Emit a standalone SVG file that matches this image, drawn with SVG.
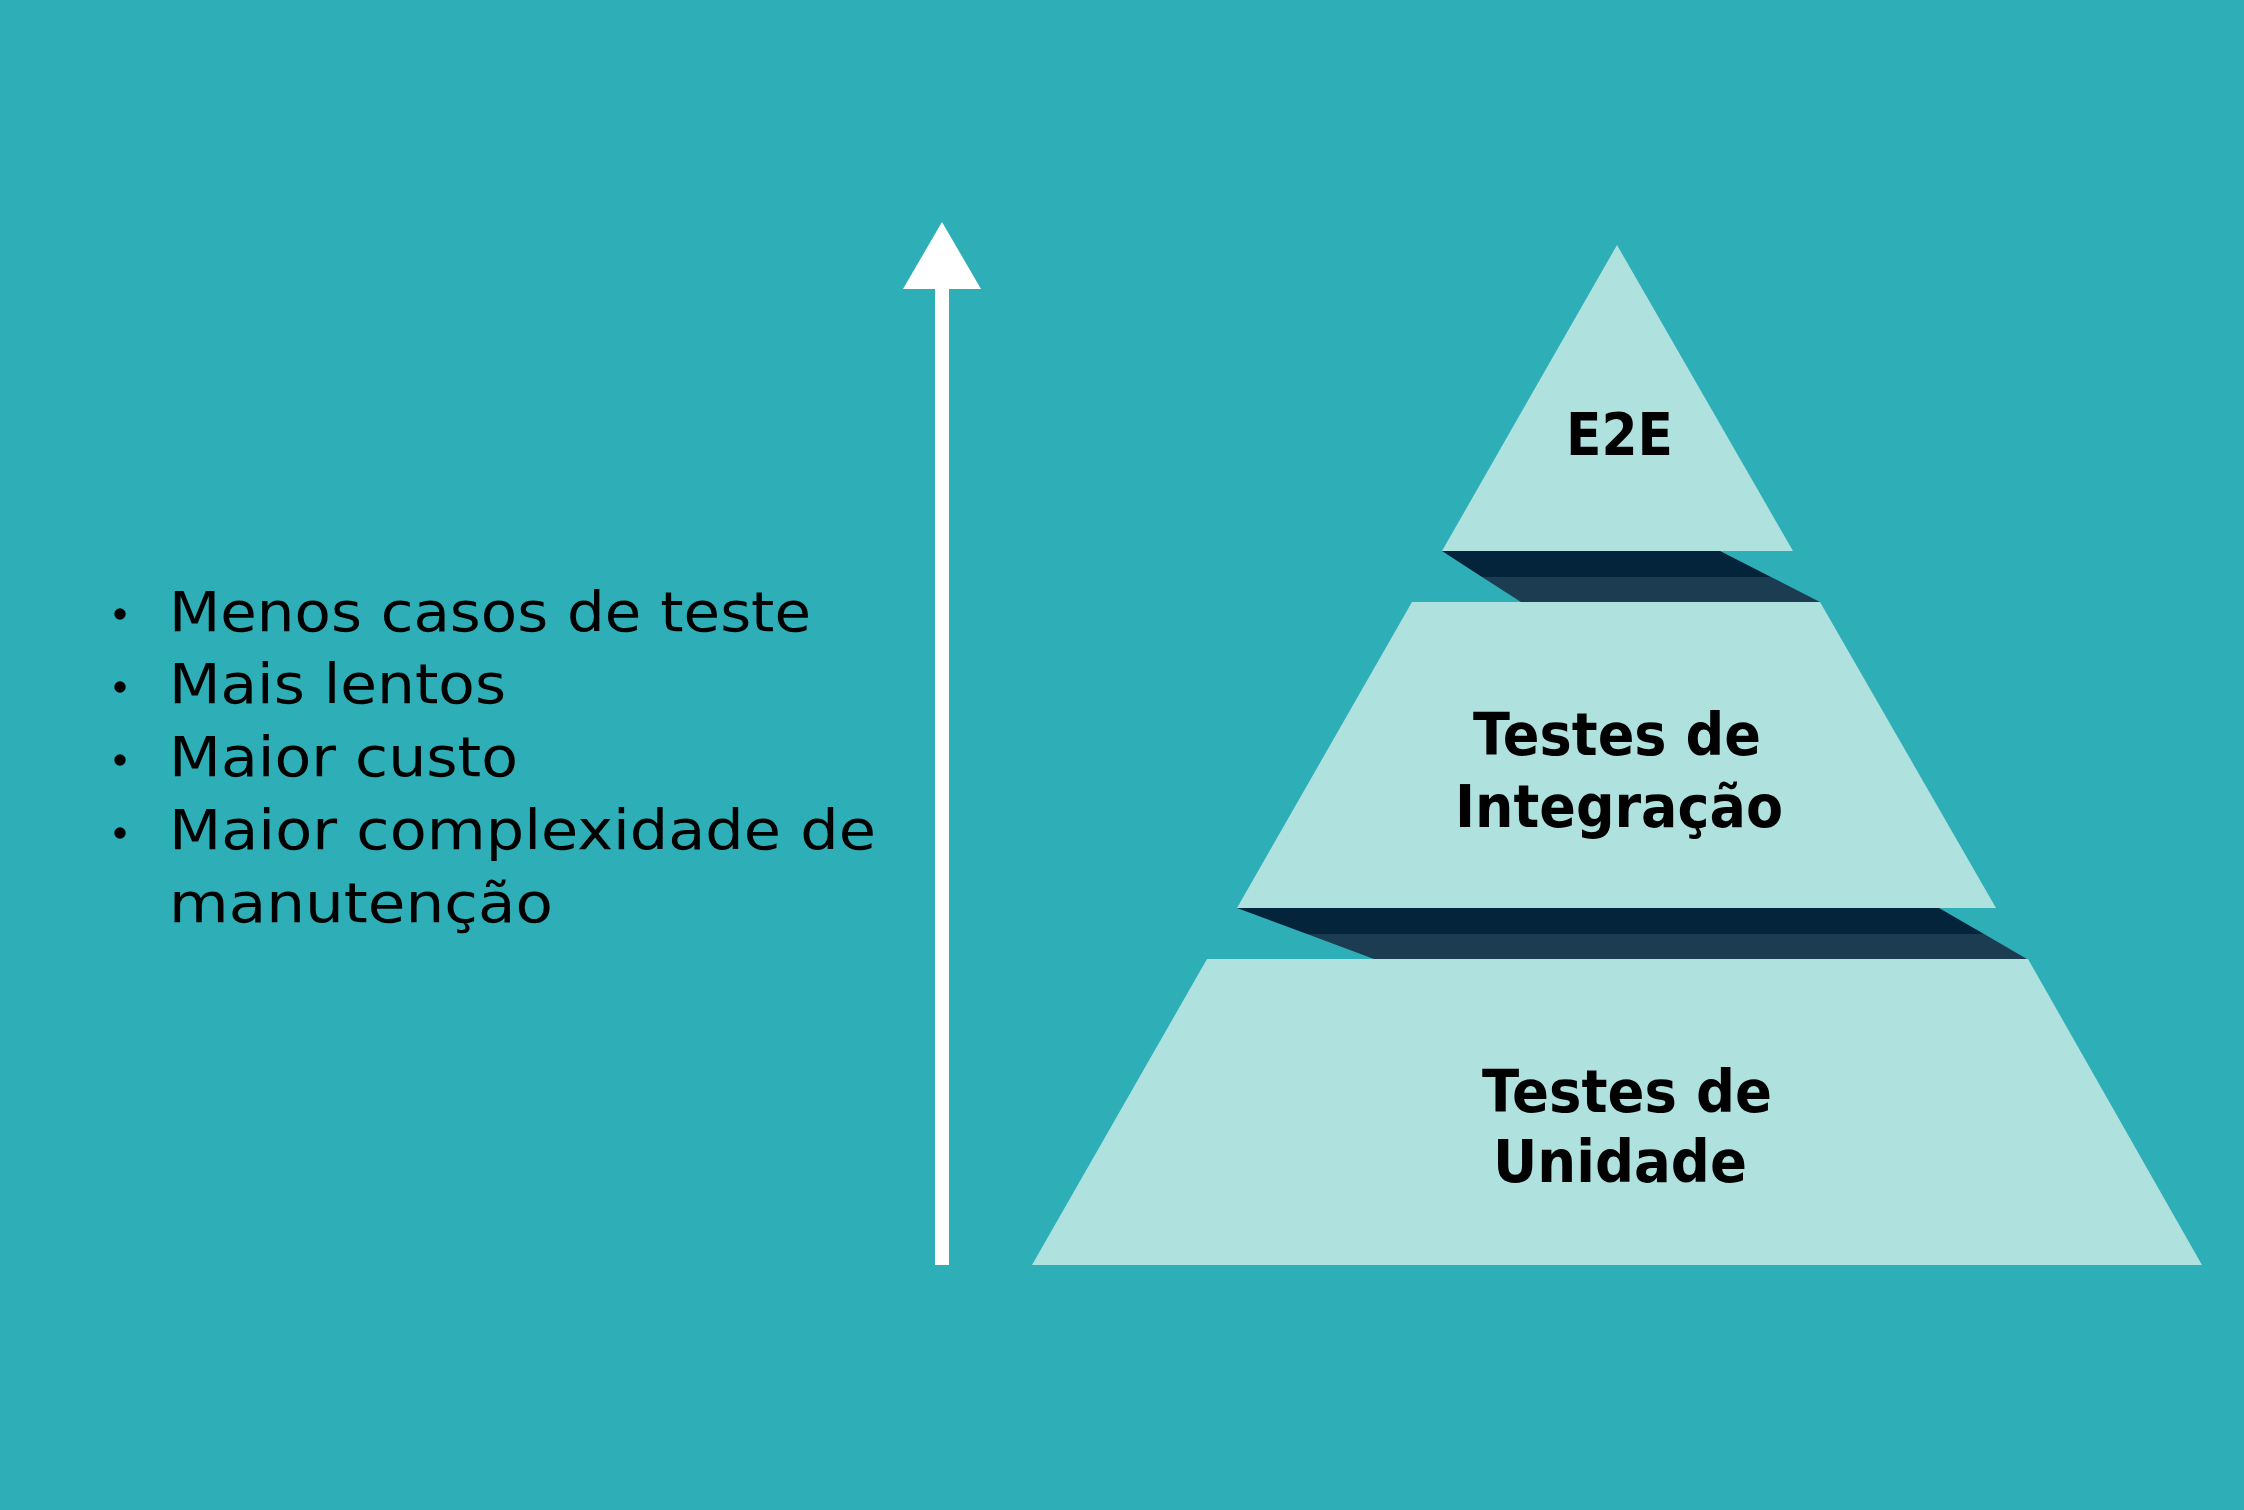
<svg xmlns="http://www.w3.org/2000/svg" width="2244" height="1510" viewBox="0 0 2244 1510">
<style>
.bg{fill:#2EAFB7}
.lvl{fill:#AFE1DF}
.d1{fill:#03243A}
.d2{fill:#1C3D51}
.arrow{fill:#FFFFFF}
.list{font-family:"DejaVu Sans",sans-serif;font-size:55px;fill:#000}
.lbl{font-family:"DejaVu Sans",sans-serif;font-weight:bold;font-size:58px;fill:#000}
</style>
<rect class="bg" x="0" y="0" width="2244" height="1510"/>
<g id="connectors">
<g id="arrow-up">
<rect class="arrow" x="935" y="287" width="14" height="978"/>
<polygon class="arrow" points="942,222 981,289 903,289"/>
</g>
<g id="shadow-top">
<polygon class="d1" points="1442,551 1720,551 1771,577 1482,577"/>
<polygon class="d2" points="1482,577 1771,577 1820,602 1521,602"/>
</g>
<g id="shadow-middle">
<polygon class="d1" points="1237,908 1939,908 1984,934 1307,934"/>
<polygon class="d2" points="1307,934 1984,934 2027,959 1374,959"/>
</g>
</g>
<g id="node-e2e">
<polygon class="lvl" points="1617,245 1793,551 1442,551"/>
<text class="lbl" x="1566" y="455" textLength="107" lengthAdjust="spacingAndGlyphs">E2E</text>
</g>
<g id="node-integracao">
<polygon class="lvl" points="1412,602 1820,602 1996,908 1237,908"/>
<text class="lbl" x="1473" y="755" textLength="288" lengthAdjust="spacingAndGlyphs">Testes de</text>
<text class="lbl" x="1455" y="827" textLength="328" lengthAdjust="spacingAndGlyphs">Integração</text>
</g>
<g id="node-unidade">
<polygon class="lvl" points="1207,959 2028,959 2202,1265 1032,1265"/>
<text class="lbl" x="1482" y="1112" textLength="290" lengthAdjust="spacingAndGlyphs">Testes de</text>
<text class="lbl" x="1493" y="1182" textLength="254" lengthAdjust="spacingAndGlyphs">Unidade</text>
</g>
<g id="node-list">
<circle cx="120" cy="614" r="5.7"/>
<circle cx="120" cy="687" r="5.7"/>
<circle cx="120" cy="760" r="5.7"/>
<circle cx="120" cy="833" r="5.7"/>
<text class="list" x="169" y="631" textLength="642" lengthAdjust="spacingAndGlyphs">Menos casos de teste</text>
<text class="list" x="169" y="703" textLength="337" lengthAdjust="spacingAndGlyphs">Mais lentos</text>
<text class="list" x="169" y="776" textLength="349" lengthAdjust="spacingAndGlyphs">Maior custo</text>
<text class="list" x="169" y="849" textLength="707" lengthAdjust="spacingAndGlyphs">Maior complexidade de</text>
<text class="list" x="169" y="922" textLength="384" lengthAdjust="spacingAndGlyphs">manutenção</text>
</g>
</svg>
